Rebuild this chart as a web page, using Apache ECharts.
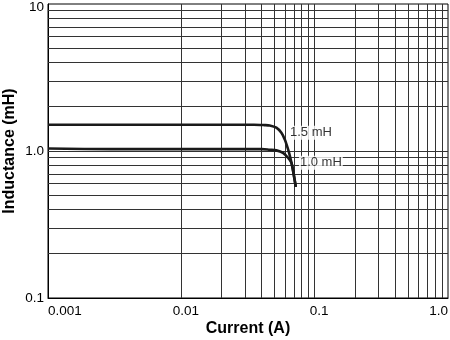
<!DOCTYPE html>
<html>
<head>
<meta charset="utf-8">
<script src="https://cdn.jsdelivr.net/npm/echarts@6/dist/echarts.min.js"></script>
<style>html,body{margin:0;padding:0;background:#fff;}#c{width:450px;height:340px;}</style>
</head>
<body>
<div id="c"></div>
<script>
// ---- data ----
var xTickValues = [0.001, 0.01, 0.1, 1];
var xTickLabels = ['0.001', '0.01', '0.1', '1.0'];
var yTickValues = [0.1, 1, 10];
var yTickLabels = ['0.1', '1.0', '10'];

var curve15X = [0.001, 0.002, 0.005, 0.01, 0.02, 0.035, 0.042, 0.046, 0.0516, 0.0563, 0.0596, 0.0621, 0.0643, 0.0670, 0.0697, 0.0722];
var curve15Y = [1.51, 1.51, 1.51, 1.51, 1.51, 1.51, 1.50, 1.49, 1.44, 1.33, 1.20, 1.08, 0.97, 0.83, 0.69, 0.57];
var curve10X = [0.001, 0.003, 0.01, 0.02, 0.04, 0.046, 0.0516, 0.0579, 0.0631, 0.0670, 0.0697, 0.0722];
var curve10Y = [1.04, 1.03, 1.03, 1.03, 1.03, 1.02, 1.01, 0.97, 0.90, 0.83, 0.69, 0.57];

var curveLabels = ['1.5 mH', '1.0 mH'];
var curveLabelX = [0.0642, 0.0762];
var curveLabelY = [1.33, 0.831];

var minorMultipliers = [2, 3, 4, 5, 6, 7, 8, 9];
var xDecades = [0.001, 0.01, 0.1];
var yDecades = [0.1, 1];

// ---- build ----
function zip(xs, ys) { return xs.map(function (x, i) { return [x, ys[i]]; }); }
function gridValues(decades, includeFirst) {
  var out = [];
  decades.forEach(function (d, k) {
    if (k > 0 || includeFirst) out.push(d);
    minorMultipliers.forEach(function (m) { out.push(+(d * m).toPrecision(6)); });
  });
  return out;
}
var xGrid = gridValues(xDecades, false);
var yGrid = gridValues(yDecades, false);

var gridLine = { color: '#333', width: 1, type: 'solid' };
var markData = xGrid.map(function (v) { return { xAxis: v }; })
  .concat(yGrid.map(function (v) { return { yAxis: v }; }));

function nearestLabel(v, vals, labels) {
  var best = 0, bd = Infinity;
  vals.forEach(function (t, i) {
    var d = Math.abs(Math.log10(v) - Math.log10(t));
    if (d < bd) { bd = d; best = i; }
  });
  return { i: best, text: labels[best] };
}

var font = "'Liberation Sans', Arial, Helvetica, sans-serif";
var chart = echarts.init(document.getElementById('c'), null, { renderer: 'canvas' });
chart.setOption({
  animation: false,
  backgroundColor: '#fff',
  grid: { left: 48, right: 2, top: 4, bottom: 42, show: true, borderColor: '#000', borderWidth: 1, containLabel: false, outerBoundsMode: 'none' },
  xAxis: {
    type: 'log', logBase: 10, min: 0.001, max: 1,
    name: 'Current (A)', nameLocation: 'middle', nameGap: 23, nameMoveOverlap: false,
    nameTextStyle: { fontFamily: font, fontSize: 16, fontWeight: 'bold', color: '#000' },
    axisLine: { show: true, lineStyle: { color: '#000', width: 1 } },
    axisTick: { show: false },
    splitLine: { show: false },
    axisLabel: {
      margin: 6, fontFamily: font, fontSize: 13.5, color: '#000',
      alignMinLabel: 'left', alignMaxLabel: 'right',
      formatter: function (v) {
        var r = nearestLabel(v, xTickValues, xTickLabels);
        if (r.i === 1 || r.i === 2) return '{s|' + r.text + '}';
        return r.text;
      },
      rich: { s: { fontFamily: font, fontSize: 13.5, color: '#000', padding: [0, 0, 0, 9] } }
    }
  },
  yAxis: {
    type: 'log', logBase: 10, min: 0.1, max: 10,
    name: 'Inductance (mH)', nameLocation: 'middle', nameGap: 30, nameMoveOverlap: false,
    nameTextStyle: { fontFamily: font, fontSize: 16, fontWeight: 'bold', color: '#000' },
    axisLine: { show: true, lineStyle: { color: '#000', width: 1 } },
    axisTick: { show: false },
    splitLine: { show: false },
    axisLabel: {
      margin: 4, fontFamily: font, fontSize: 13.5, color: '#000',
      formatter: function (v) {
        var r = nearestLabel(v, yTickValues, yTickLabels);
        if (r.i === 2) return '{t|' + r.text + '}';
        return r.text;
      },
      rich: { t: { fontFamily: font, fontSize: 13.5, color: '#000', padding: [6, 0, 0, 0] } }
    }
  },
  series: [
    {
      name: 'grid', type: 'line', data: [], silent: true, z: 1,
      markLine: { silent: true, symbol: ['none', 'none'], label: { show: false }, lineStyle: gridLine, data: markData, animation: false }
    },
    {
      name: '1.5 mH', type: 'line', data: zip(curve15X, curve15Y), showSymbol: false, smooth: 0.3, z: 5,
      lineStyle: { color: '#1a1a1a', width: 2.6 }
    },
    {
      name: '1.0 mH', type: 'line', data: zip(curve10X, curve10Y), showSymbol: false, smooth: 0.3, z: 5,
      lineStyle: { color: '#1a1a1a', width: 2.6 }
    },
    {
      name: 'labels', type: 'scatter', symbolSize: 0, z: 6, silent: true,
      data: curveLabels.map(function (t, i) { return { value: [curveLabelX[i], curveLabelY[i]], name: t }; }),
      label: {
        show: true, position: 'right', distance: 0, formatter: '{b}',
        fontFamily: font, fontSize: 13, color: '#000',
        backgroundColor: '#fff', padding: [1, 1, 0, 1]
      }
    }
  ]
});
</script>
</body>
</html>
